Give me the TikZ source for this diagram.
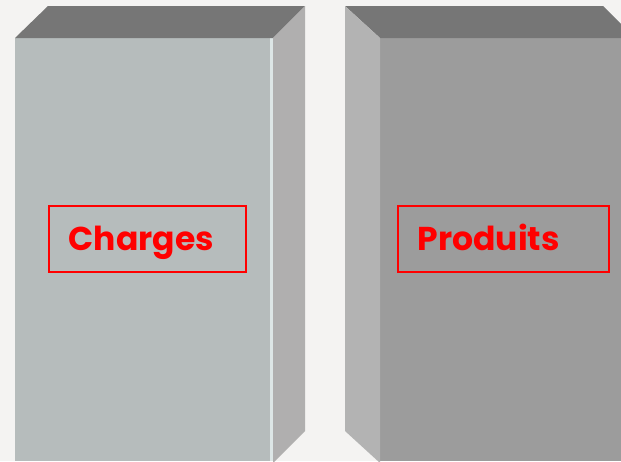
\documentclass[tikz,border=0pt]{standalone}
\usepackage{fontspec}
\setmainfont{Poppins}
\usetikzlibrary{positioning}
\definecolor{bgcol}{HTML}{F4F3F2}
\definecolor{topcol}{HTML}{767676}
\definecolor{frontA}{HTML}{B6BCBC}
\definecolor{sideA}{HTML}{B0AFAF}
\definecolor{edgeA}{HTML}{DDE6E6}
\definecolor{frontB}{HTML}{9C9C9C}
\definecolor{sideB}{HTML}{B3B3B3}

\begin{document}
\begin{tikzpicture}[x=1pt,y=-1pt,
    tag/.style={draw=red, line width=1.5pt, text=red, font=\bfseries\fontsize{33}{40}\selectfont,
        minimum height=66pt, inner xsep=20pt, text height=28pt, text depth=6pt,
        align=left, anchor=west}]
    \useasboundingbox (0,0) rectangle (621,461);
    \clip (0,0) rectangle (621,461);
    \fill[bgcol] (0,0) rectangle (621,461);

    % left block
    \fill[frontA] (15,38) rectangle (273,461);
    \fill[edgeA] (270,38) rectangle (273,461);
    \fill[topcol] (15,38) -- (48,6) -- (305,6) -- (273,38) -- cycle;
    \fill[sideA] (273,38) -- (305,6) -- (305,431) -- (273,463) -- cycle;

    % right block
    \fill[frontB] (380,38) rectangle (621,461);
    \fill[topcol] (345,6) -- (603,6) -- (635,38) -- (380,38) -- cycle;
    \fill[sideB] (345,6) -- (380,38) -- (380,463) -- (345,431) -- cycle;

    \node[tag, text width=157pt] (charges) at (48,239) {Charges};
    \node[tag, text width=171pt] (produits) at (397,239) {Produits};
\end{tikzpicture}
\end{document}
